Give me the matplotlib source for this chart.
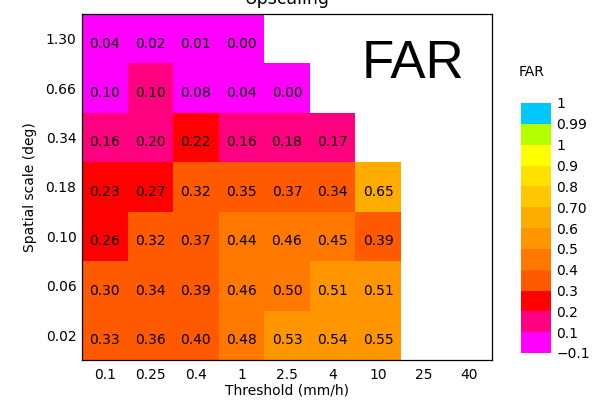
import numpy as np
import matplotlib
matplotlib.use("Agg")
import matplotlib.pyplot as plt
from matplotlib.colors import ListedColormap, BoundaryNorm

# --- data ---
thresholds = ["0.1", "0.25", "0.4", "1", "2.5", "4", "10", "25", "40"]
scales = ["0.02", "0.06", "0.10", "0.18", "0.34", "0.66", "1.30"]

nan = np.nan
# rows follow scales (bottom to top), columns follow thresholds
far_002 = [0.33, 0.36, 0.398, 0.48, 0.53, 0.54, 0.55, nan, nan]
far_006 = [0.30, 0.34, 0.39, 0.46, 0.498, 0.51, 0.51, nan, nan]
far_010 = [0.26, 0.32, 0.37, 0.44, 0.46, 0.45, 0.39, nan, nan]
far_018 = [0.23, 0.27, 0.32, 0.35, 0.37, 0.34, 0.65, nan, nan]
far_034 = [0.16, 0.199, 0.22, 0.16, 0.18, 0.17, nan, nan, nan]
far_066 = [0.098, 0.102, 0.08, 0.04, 0.00, nan, nan, nan, nan]
far_130 = [0.04, 0.02, 0.01, 0.00, nan, nan, nan, nan, nan]

# colour levels of the legend bar (bottom to top) and its labels
level_bounds = [-0.1, 0.1, 0.2, 0.3, 0.4, 0.5, 0.6, 0.7, 0.8, 0.9, 1.0]
level_colors = ["#FF00FF", "#FF0080", "#FF0000", "#FF5A00", "#FF7800",
                "#FF9600", "#FFAC00", "#FFC800", "#FFE100", "#FFFF00",
                "#B4FF00", "#00C8FF"]
bar_labels = ["\u22120.1", "0.1", "0.2", "0.3", "0.4", "0.5", "0.6", "0.70",
              "0.8", "0.9", "1", "0.99", "1"]

far = np.array([far_002, far_006, far_010, far_018, far_034, far_066, far_130])

plt.rcParams["font.family"] = "DejaVu Sans"
plt.rcParams["font.size"] = 10

fig = plt.figure(figsize=(6.04, 4.04), dpi=100)
ax = fig.add_axes([82 / 604, 44 / 404, 410 / 604, 346 / 404])

cmap = ListedColormap(level_colors[:10])
cmap.set_bad("white")
norm = BoundaryNorm(level_bounds, cmap.N)
x = np.arange(len(thresholds) + 1) - 0.5
y = np.arange(len(scales) + 1) - 0.5
ax.pcolormesh(x, y, np.ma.masked_invalid(far), cmap=cmap, norm=norm, zorder=3)

# cell values sit a little below the cell centre in the original
for i in range(len(scales)):
    for j in range(len(thresholds)):
        if not np.isnan(far[i, j]):
            ax.annotate("%.2f" % far[i, j], (j, i), xytext=(0, -3.5),
                        textcoords="offset points", ha="center", va="center",
                        fontsize=10, zorder=5)

ax.set_xlim(-0.5, len(thresholds) - 0.5)
ax.set_ylim(-0.5, len(scales) - 0.5)
ax.set_xticks(range(len(thresholds)))
ax.set_xticklabels(thresholds)
ax.set_yticks(range(len(scales)))
ax.set_yticklabels(scales)
ax.tick_params(direction="in", length=6, width=0.8, top=True, right=True)
ax.tick_params(axis="x", pad=6)
ax.tick_params(axis="y", pad=4)
for sp in ax.spines.values():
    sp.set_zorder(4)
    sp.set_linewidth(0.9)

ax.set_xlabel("Threshold (mm/h)", labelpad=1)
ax.set_ylabel("Spatial scale (deg)", labelpad=6)

# title is partly cut off at the top edge, as in the original
fig.text(287 / 604, 400 / 404, "Upscaling", ha="center", va="baseline",
         fontsize=12.5)
fig.text(362 / 604, (404 - 78) / 404, "FAR", ha="left", va="baseline",
         fontsize=38, family="Liberation Sans")

# legend bar drawn by hand (its labels are not monotonic)
cax = fig.add_axes([521 / 604, 51 / 404, 30 / 604, 250 / 404])
levels = np.arange(len(level_colors))
cax.pcolormesh([0, 1], np.arange(len(level_colors) + 1),
               levels.reshape(-1, 1), cmap=ListedColormap(level_colors),
               vmin=-0.5, vmax=len(level_colors) - 0.5)
cax.set_xlim(0, 1)
cax.set_ylim(0, len(level_colors))
cax.set_xticks([])
cax.yaxis.tick_right()
cax.set_yticks(range(len(bar_labels)))
cax.set_yticklabels(bar_labels)
cax.tick_params(axis="y", length=0, pad=4)
for sp in cax.spines.values():
    sp.set_visible(False)
fig.text(519 / 604, (404 - 72) / 404, "FAR", ha="left", va="center",
         fontsize=10)

fig.savefig("out.png", dpi=100)
